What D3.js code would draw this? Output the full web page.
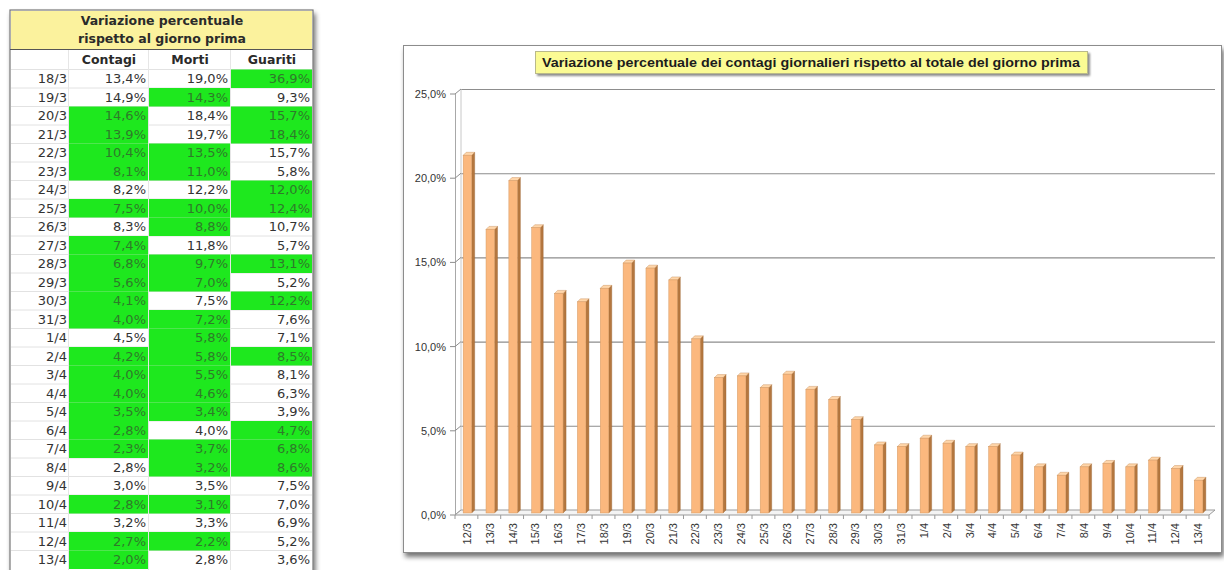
<!DOCTYPE html>
<html><head><meta charset="utf-8">
<script src="https://cdn.jsdelivr.net/npm/d3@7"></script>
<style>html,body{margin:0;padding:0;background:#fff;}svg{display:block;}</style>
</head><body>
<svg id="c" width="1224" height="570"></svg>
<script>
// ---- chart data ----
const categories = ["12/3","13/3","14/3","15/3","16/3","17/3","18/3","19/3","20/3","21/3","22/3","23/3","24/3","25/3","26/3","27/3","28/3","29/3","30/3","31/3","1/4","2/4","3/4","4/4","5/4","6/4","7/4","8/4","9/4","10/4","11/4","12/4","13/4"];
const contagiGiornalieri = [21.3,16.9,19.8,17.0,13.1,12.6,13.4,14.9,14.6,13.9,10.4,8.1,8.2,7.5,8.3,7.4,6.8,5.6,4.1,4.0,4.5,4.2,4.0,4.0,3.5,2.8,2.3,2.8,3.0,2.8,3.2,2.7,2.0];
const yTicks = [0,5,10,15,20,25];
const chartTitle = "Variazione percentuale dei contagi giornalieri rispetto al totale del giorno prima";

// ---- table data ----
const tableTitle = ["Variazione percentuale","rispetto al giorno prima"];
const tableColumns = ["Contagi","Morti","Guariti"];
const tableDates = ["18/3","19/3","20/3","21/3","22/3","23/3","24/3","25/3","26/3","27/3","28/3","29/3","30/3","31/3","1/4","2/4","3/4","4/4","5/4","6/4","7/4","8/4","9/4","10/4","11/4","12/4","13/4"];
const tContagi = [13.4,14.9,14.6,13.9,10.4,8.1,8.2,7.5,8.3,7.4,6.8,5.6,4.1,4.0,4.5,4.2,4.0,4.0,3.5,2.8,2.3,2.8,3.0,2.8,3.2,2.7,2.0];
const tMorti = [19.0,14.3,18.4,19.7,13.5,11.0,12.2,10.0,8.8,11.8,9.7,7.0,7.5,7.2,5.8,5.8,5.5,4.6,3.4,4.0,3.7,3.2,3.5,3.1,3.3,2.2,2.8];
const tGuariti = [36.9,9.3,15.7,18.4,15.7,5.8,12.0,12.4,10.7,5.7,13.1,5.2,12.2,7.6,7.1,8.5,8.1,6.3,3.9,4.7,6.8,8.6,7.5,7.0,6.9,5.2,3.6];
// 1 = value fell compared with the previous day (highlighted)
const caloContagi = [0,0,1,1,1,1,0,1,0,1,1,1,1,1,0,1,1,1,1,1,1,0,0,1,0,1,1];
const caloMorti   = [0,1,0,0,1,1,0,1,1,0,1,1,0,1,1,1,1,1,1,0,1,1,0,1,0,1,0];
const caloGuariti = [1,0,1,1,0,0,1,1,0,0,1,0,1,0,0,1,0,0,0,1,1,1,0,0,0,0,0];

const loc = d3.formatLocale({decimal:",",thousands:".",grouping:[3],currency:["€",""]});
const fmt = v => loc.format(".1f")(v) + "%";

const svg = d3.select("#c");
const defs = svg.append("defs");
const sh = defs.append("filter").attr("id","sh").attr("x","-5%").attr("y","-5%").attr("width","115%").attr("height","125%");
sh.append("feGaussianBlur").attr("in","SourceAlpha").attr("stdDeviation",2.5);
sh.append("feOffset").attr("dx",2).attr("dy",4).attr("result","o");
sh.append("feComponentTransfer").append("feFuncA").attr("type","linear").attr("slope",0.55);
const m = sh.append("feMerge"); m.append("feMergeNode"); m.append("feMergeNode").attr("in","SourceGraphic");
const sh2 = defs.append("filter").attr("id","sh2").attr("x","-5%").attr("y","-20%").attr("width","115%").attr("height","160%");
sh2.append("feGaussianBlur").attr("in","SourceAlpha").attr("stdDeviation",1.2);
sh2.append("feOffset").attr("dx",2).attr("dy",2).attr("result","o");
sh2.append("feComponentTransfer").append("feFuncA").attr("type","linear").attr("slope",0.45);
const m2 = sh2.append("feMerge"); m2.append("feMergeNode"); m2.append("feMergeNode").attr("in","SourceGraphic");

// =================== TABLE ===================
const T = svg.append("g");
const tx0 = 10, tx1 = 313;
const colX = [69,149,231,313];
const rowY = d3.scaleBand().domain(tableDates).range([69, 69 + 18.5*tableDates.length]);
T.append("rect").attr("x",tx0).attr("y",10).attr("width",tx1-tx0).attr("height",580).attr("fill","#fff").attr("stroke","#777").attr("stroke-width",1.2).attr("filter","url(#sh)");
T.append("rect").attr("x",tx0+1).attr("y",11).attr("width",tx1-tx0-2).attr("height",38).attr("fill","#FBF29D");
T.append("line").attr("x1",tx0).attr("x2",tx1).attr("y1",49.5).attr("y2",49.5).attr("stroke","#555").attr("stroke-width",1);
T.selectAll("text.tt").data(tableTitle).join("text").attr("class","tt")
  .attr("x",162).attr("y",(d,i)=>25+i*18).attr("text-anchor","middle")
  .attr("font-family","DejaVu Sans").attr("font-weight","bold").attr("font-size",12.5).attr("fill","#2a2a2a").text(d=>d);
// header
T.selectAll("text.th").data(tableColumns).join("text").attr("class","th")
  .attr("x",(d,i)=>(colX[i]+colX[i+1])/2).attr("y",64).attr("text-anchor","middle")
  .attr("font-family","DejaVu Sans").attr("font-weight","bold").attr("font-size",12.5).attr("fill","#2a2a2a").text(d=>d);
// grid lines
T.selectAll("line.hg").data(tableDates).join("line").attr("class","hg")
  .attr("x1",tx0+1).attr("x2",tx1-1).attr("y1",d=>rowY(d)+0.5).attr("y2",d=>rowY(d)+0.5).attr("stroke","#e2e2e2");
T.selectAll("line.vg").data(colX.slice(0,3)).join("line").attr("class","vg")
  .attr("x1",d=>d-0.5).attr("x2",d=>d-0.5).attr("y1",50).attr("y2",570).attr("stroke","#e6e6e6");
const cols = [tContagi,tMorti,tGuariti];
const flags = [caloContagi,caloMorti,caloGuariti];
cols.forEach((vals,ci)=>{
  const g = T.append("g");
  g.selectAll("rect").data(vals).join("rect")
    .attr("x",colX[ci]).attr("y",(d,i)=>rowY(tableDates[i])+0.5).attr("width",colX[ci+1]-colX[ci]-1).attr("height",rowY.bandwidth())
    .attr("fill",(d,i)=>flags[ci][i] ? "#1EE81E" : "none");
  g.selectAll("text").data(vals).join("text")
    .attr("x",colX[ci+1]-3).attr("y",(d,i)=>rowY(tableDates[i])+rowY.bandwidth()/2+5).attr("text-anchor","end")
    .attr("font-family","DejaVu Sans").attr("font-size",13)
    .attr("fill",(d,i)=>flags[ci][i] ? "#2F7A2A" : "#333").text(fmt);
});
T.selectAll("text.td").data(tableDates).join("text").attr("class","td")
  .attr("x",67).attr("y",d=>rowY(d)+rowY.bandwidth()/2+5).attr("text-anchor","end")
  .attr("font-family","DejaVu Sans").attr("font-size",13).attr("fill","#333").text(d=>d);

// =================== CHART ===================
const C = svg.append("g");
C.append("rect").attr("x",403.5).attr("y",45.5).attr("width",818).attr("height",507).attr("fill","#fff").attr("stroke","#8c8c8c").attr("stroke-width",1).attr("filter","url(#sh)");

const dx = 6, dy = 5; // depth offset of back wall
const x = d3.scaleBand().domain(categories).range([455, 1209]).paddingInner(0).paddingOuter(0);
const y = d3.scaleLinear().domain([0,25]).range([510, 89]);

// back wall gridlines
C.selectAll("line.gl").data(yTicks).join("line").attr("class","gl")
  .attr("x1",x.range()[0]+dx).attr("x2",x.range()[1]+dx).attr("y1",d=>y(d)+0.5).attr("y2",d=>y(d)+0.5)
  .attr("stroke","#8d8d8d").attr("stroke-width",1.1);
// left wall line
C.append("line").attr("x1",x.range()[0]+0.5).attr("x2",x.range()[0]+0.5).attr("y1",y(25)+dy).attr("y2",y(0)+dy).attr("stroke","#a8a8a8");
C.append("line").attr("x1",x.range()[0]+dx).attr("x2",x.range()[0]+dx).attr("y1",y(25)).attr("y2",y(0)).attr("stroke","#c8c8c8");
// slanted ticks
C.selectAll("path.yt").data(yTicks).join("path").attr("class","yt")
  .attr("d",d=>`M${x.range()[0]-5},${y(d)+dy} L${x.range()[0]},${y(d)+dy} L${x.range()[0]+dx},${y(d)}`)
  .attr("fill","none").attr("stroke","#8d8d8d");
C.selectAll("text.yl").data(yTicks).join("text").attr("class","yl")
  .attr("x",446).attr("y",d=>y(d)+dy+4).attr("text-anchor","end")
  .attr("font-family","Liberation Sans").attr("font-size",11).attr("fill","#333").text(d=>loc.format(".1f")(d)+"%");
// floor
const fx0 = x.range()[0], fx1 = x.range()[1];
C.append("path").attr("d",`M${fx0},${y(0)+dy} L${fx1},${y(0)+dy} L${fx1+dx},${y(0)} L${fx0+dx},${y(0)} Z`)
  .attr("fill","#f4f4f4").attr("stroke","#9a9a9a").attr("stroke-width",1);
// category ticks
C.selectAll("line.xt").data(categories.concat(["__end"])).join("line").attr("class","xt")
  .attr("x1",(d,i)=>fx0+i*x.step()).attr("x2",(d,i)=>fx0+i*x.step())
  .attr("y1",y(0)+dy).attr("y2",y(0)+dy+4).attr("stroke","#9a9a9a");

// bars (3D)
const bw = 8.5, sd = 3;
const bars = C.selectAll("g.bar").data(categories).join("g").attr("class","bar");
bars.each(function(d,i){
  const g = d3.select(this);
  const cx = x(d) + x.bandwidth()/2 + 1;
  const top = y(contagiGiornalieri[i]) + 4;
  const base = y(0) + 3;
  g.append("path").attr("d",`M${cx+bw/2},${top} L${cx+bw/2+sd},${top-sd} L${cx+bw/2+sd},${base-sd} L${cx+bw/2},${base} Z`)
    .attr("fill","#B4773F").attr("stroke","#9a6330").attr("stroke-width",0.4);
  g.append("path").attr("d",`M${cx-bw/2},${top} L${cx-bw/2+sd},${top-sd} L${cx+bw/2+sd},${top-sd} L${cx+bw/2},${top} Z`)
    .attr("fill","#FFD6AA").attr("stroke","#c0844d").attr("stroke-width",0.4);
  g.append("rect").attr("x",cx-bw/2).attr("y",top).attr("width",bw).attr("height",base-top)
    .attr("fill","#FBB87E").attr("stroke","#d69a62").attr("stroke-width",0.5);
});

// x labels
C.selectAll("text.xl").data(categories).join("text").attr("class","xl")
  .attr("transform",d=>`translate(${x(d)+x.bandwidth()/2+4.5},${523}) rotate(-90)`)
  .attr("text-anchor","end").attr("font-family","Liberation Sans").attr("font-size",11).attr("fill","#333").text(d=>d);

// title box
const tb = C.append("g").attr("filter","url(#sh2)");
tb.append("rect").attr("x",535.5).attr("y",51.5).attr("width",552).attr("height",22).attr("fill","#FBFB94").attr("stroke","#b9b98a");
C.append("text").attr("x",811).attr("y",67).attr("text-anchor","middle")
  .attr("font-family","Liberation Sans").attr("font-weight","bold").attr("font-size",13).attr("fill","#1d1d1d")
  .attr("textLength",538).attr("lengthAdjust","spacingAndGlyphs").text(chartTitle);
</script>
</body></html>
